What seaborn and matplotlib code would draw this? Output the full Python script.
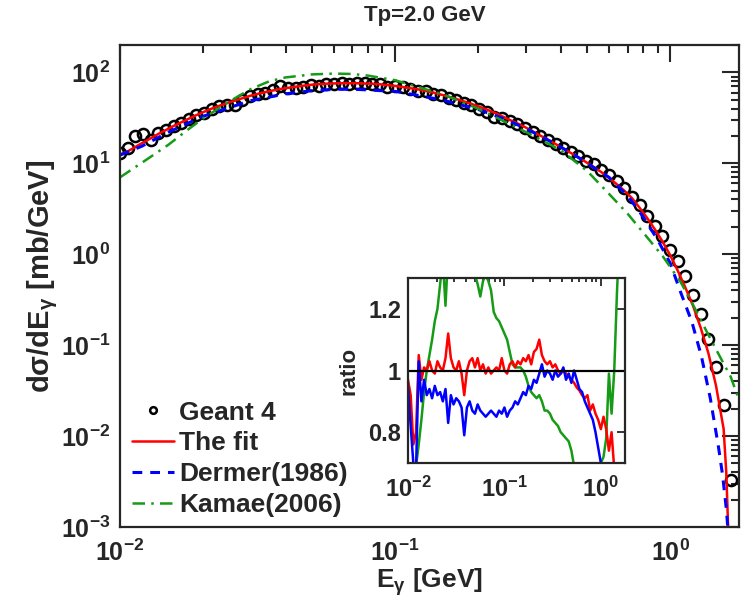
import numpy as np
import pandas as pd
import matplotlib
matplotlib.use("Agg")
import matplotlib.pyplot as plt
import seaborn as sns
from matplotlib.ticker import LogLocator, FixedLocator, FixedFormatter

# photon energy bins (GeV)
g4_e = [0.01000, 0.01066, 0.01136, 0.01212, 0.01292, 0.01377, 0.01468, 0.01565, 0.01668, 0.01778,
        0.01896, 0.02021, 0.02154, 0.02297, 0.02448, 0.02610, 0.02783, 0.02967, 0.03162, 0.03371,
        0.03594, 0.03831, 0.04084, 0.04354, 0.04642, 0.04948, 0.05275, 0.05623, 0.05995, 0.06391,
        0.06813, 0.07263, 0.07743, 0.08254, 0.08799, 0.09381, 0.1000, 0.1066, 0.1136, 0.1212,
        0.1292, 0.1377, 0.1468, 0.1565, 0.1668, 0.1778, 0.1896, 0.2021, 0.2154, 0.2297,
        0.2448, 0.2610, 0.2783, 0.2967, 0.3162, 0.3371, 0.3594, 0.3831, 0.4084, 0.4354,
        0.4642, 0.4948, 0.5275, 0.5623, 0.5995, 0.6391, 0.6813, 0.7263, 0.7743, 0.8254,
        0.8799, 0.9381, 1.000, 1.066, 1.136, 1.212, 1.292, 1.377, 1.468, 1.565, 1.668]

# Geant 4 cross section (mb/GeV)
g4_xs = [12.9, 14.7, 19.9, 21.1, 17.9, 21.6, 23.0, 25.7, 27.4, 30.9,
         34.2, 35.8, 39.5, 42.9, 44.1, 43.7, 49.9, 54.6, 57.9, 58.9,
         63.8, 71.3, 67.6, 67.6, 68.7, 72.3, 71.4, 75.1, 74.1, 76.8,
         75.2, 76.8, 75.5, 74.3, 74.0, 69.7, 71.0, 69.7, 65.7, 63.1,
         61.9, 58.3, 55.9, 51.9, 49.5, 45.7, 44.1, 39.6, 36.4, 32.7,
         31.4, 29.1, 27.0, 24.3, 22.3, 19.8, 18.2, 16.5, 14.6, 13.3,
         12.0, 10.7, 9.7, 8.4, 7.4, 6.4, 5.4, 4.3, 3.5, 2.6,
         2.05, 1.6, 1.1, 0.85, 0.58, 0.36, 0.22, 0.118, 0.057, 0.022, 0.0033]

# the fit
fit_e = g4_e[:80] + [1.600, 1.625, 1.640]
fit_xs = [12.5, 13.5, 15.1, 16.9, 18.8, 21.0, 23.2, 25.7, 28.2, 30.9,
          33.9, 36.9, 39.9, 42.9, 45.9, 48.9, 51.9, 55.1, 57.9, 60.7,
          63.2, 65.6, 67.6, 69.6, 71.4, 73.0, 74.3, 75.1, 75.6, 76.0,
          76.0, 76.0, 75.5, 75.0, 74.0, 72.5, 71.0, 69.0, 67.0, 65.0,
          62.5, 60.0, 57.0, 54.0, 51.0, 48.0, 45.0, 42.0, 39.0, 36.0,
          33.0, 30.0, 27.5, 25.0, 22.5, 20.2, 18.2, 16.3, 14.6, 13.0,
          11.6, 10.3, 9.1, 8.0, 6.9, 5.9, 5.0, 4.15, 3.25, 2.5,
          1.88, 1.38, 0.98, 0.66, 0.43, 0.27, 0.155, 0.082, 0.036, 0.012,
          0.004, 0.001, 0.0002]

# Dermer (1986)
dermer_e = [0.01, 0.012, 0.015, 0.02, 0.025, 0.03, 0.04, 0.05, 0.06, 0.07, 0.08, 0.1, 0.12, 0.15,
            0.2, 0.25, 0.3, 0.35, 0.4, 0.45, 0.5, 0.6, 0.7, 0.8, 0.9, 1.0, 1.1, 1.2, 1.3, 1.4,
            1.5, 1.55, 1.6, 1.62, 1.635]
dermer_xs = [12.3, 15.4, 22.0, 32.8, 41.0, 49.0, 58.0, 63.0, 65.0, 65.4, 64.0, 61.8, 56.2, 49.3,
             39.2, 30.7, 24.0, 18.8, 15.1, 12.3, 10.0, 7.0, 4.4, 2.55, 1.45, 0.80, 0.36, 0.18, 0.075, 0.026,
             0.0075, 0.0038, 0.0016, 0.001, 0.0004]

# Kamae (2006)
kamae_e = [0.01, 0.011, 0.0125, 0.015, 0.0175, 0.02, 0.025, 0.03, 0.035, 0.04, 0.05, 0.06, 0.07, 0.08,
           0.1, 0.15, 0.2, 0.3, 0.4, 0.5, 0.6, 0.7, 0.83, 0.94, 1.09, 1.21, 1.36, 1.52, 1.66, 1.78]
kamae_xs = [7.0, 8.5, 11.0, 16.0, 23.0, 31.0, 48.0, 66.0, 80.0, 88.0, 95.0, 97.0, 96.0, 92.0,
            82.0, 57.0, 40.0, 22.0, 14.0, 8.2, 4.6, 2.8, 1.5, 0.95, 0.5, 0.28, 0.14, 0.074, 0.045, 0.025]

# ratios in the inset
ratio_fit = [0.97, 0.92, 0.76, 0.80, 1.05, 0.97, 1.01, 1.00, 1.03, 1.00,
             0.99, 1.03, 1.01, 1.00, 1.04, 1.12, 1.04, 1.01, 1.00, 1.03,
             0.99, 0.92, 1.00, 1.03, 1.04, 1.01, 1.04, 1.00, 1.02, 0.99,
             1.01, 0.99, 1.00, 1.01, 1.00, 1.04, 1.00, 0.99, 1.02, 1.03,
             1.01, 1.03, 1.02, 1.04, 1.03, 1.05, 1.02, 1.06, 1.07, 1.10,
             1.05, 1.03, 1.02, 1.03, 1.01, 1.02, 1.00, 0.99, 1.00, 0.99,
             0.98, 0.97, 0.96, 0.945, 0.935, 0.92, 0.91, 0.92, 0.87, 0.89,
             0.86, 0.84, 0.81, 0.85, 0.81, 0.74, 0.80, 0.68, 0.60, 0.55, 0.50]
ratio_dermer = [0.95, 0.82, 0.70, 0.68, 1.03, 0.90, 0.97, 0.92, 0.94, 0.91,
                0.95, 0.92, 0.93, 0.90, 0.94, 0.83, 0.92, 0.89, 0.91, 0.90,
                0.88, 0.79, 0.88, 0.90, 0.87, 0.86, 0.89, 0.87, 0.86, 0.85,
                0.86, 0.87, 0.86, 0.85, 0.87, 0.86, 0.88, 0.85, 0.87, 0.88,
                0.90, 0.89, 0.91, 0.93, 0.92, 0.95, 0.94, 0.97, 0.96, 0.99,
                1.02, 0.98, 1.00, 0.99, 0.97, 1.00, 0.98, 0.99, 1.01, 0.97,
                0.99, 0.96, 1.00, 0.97, 0.94, 0.93, 0.90, 0.88, 0.86, 0.84,
                0.80, 0.75, 0.70, 0.66, 0.62, 0.58, 0.55, 0.50, 0.45, 0.40, 0.35]
ratio_kamae = [0.54, 0.58, 0.63, 0.69, 0.76, 0.84, 0.93, 1.00, 1.05, 1.10,
               1.16, 1.20, 1.28, 1.36, 1.21, 1.38, 1.45, 1.50, 1.55, 1.55,
               1.52, 1.48, 1.44, 1.40, 1.35, 1.31, 1.28, 1.24, 1.29, 1.31,
               1.29, 1.26, 1.19, 1.17, 1.16, 1.14, 1.12, 1.10, 1.06, 1.02,
               1.01, 1.01, 1.01, 1.00, 0.98, 0.95, 0.93, 0.92, 0.91, 0.92,
               0.90, 0.87, 0.87, 0.86, 0.84, 0.83, 0.82, 0.80, 0.79, 0.78,
               0.77, 0.74, 0.69, 0.65, 0.62, 0.60, 0.58, 0.57, 0.60, 0.62,
               0.65, 0.68, 0.70, 0.72, 0.78, 0.99, 0.86, 1.00, 1.25, 1.45, 1.60]

RED = "#ff0000"
BLUE = "#0000ff"
GREEN = "#169b16"

sns.set_style("white")
plt.rcParams["font.family"] = ["Liberation Sans", "DejaVu Sans"]
plt.rcParams["font.weight"] = "bold"
plt.rcParams["mathtext.fontset"] = "custom"
plt.rcParams["mathtext.rm"] = "Liberation Sans:bold"
plt.rcParams["mathtext.it"] = "Liberation Sans:bold"
plt.rcParams["mathtext.bf"] = "Liberation Sans:bold"
plt.rcParams["mathtext.default"] = "rm"
plt.rcParams["axes.linewidth"] = 1.6

fig = plt.figure(figsize=(7.47, 6.04), dpi=100)
ax = fig.add_axes([120 / 747, 1 - 527 / 604, 619 / 747, 482 / 604])
ax.set_xscale("log")
ax.set_yscale("log")

sns.lineplot(x=g4_e, y=g4_xs, ax=ax, estimator=None, linestyle="", marker="o",
             markersize=8, markerfacecolor="none", markeredgecolor="black",
             markeredgewidth=1.8, label="Geant 4")
sns.lineplot(x=fit_e, y=fit_xs, ax=ax, estimator=None, color=RED, lw=1.8, label="The fit")
sns.lineplot(x=dermer_e, y=dermer_xs, ax=ax, estimator=None, color=BLUE, lw=2.2,
             linestyle=(0, (3.2, 2.6)), label="Dermer(1986)")
sns.lineplot(x=kamae_e, y=kamae_xs, ax=ax, estimator=None, color=GREEN, lw=1.8,
             linestyle=(0, (5, 2.5, 1, 2.5)), label="Kamae(2006)")

ax.set_xlim(0.01, 1.78)
ax.set_ylim(1e-3, 2e2)
ax.yaxis.set_major_locator(LogLocator(base=10, numticks=10))
ax.yaxis.set_minor_locator(LogLocator(base=10, subs=np.arange(2, 10), numticks=20))
ax.tick_params(which="both", direction="in", top=True, right=True, width=1.5, labelsize=18)
ax.tick_params(which="major", length=12, pad=7)
ax.tick_params(which="minor", length=6)
ax.tick_params(axis="x", which="major", pad=9)

ax.set_xlabel(r"E$_{γ}$ [GeV]", fontsize=19, fontweight="bold", labelpad=0)
ax.set_ylabel(r"dσ/dE$_{γ}$ [mb/GeV]", fontsize=21, fontweight="bold")
ax.yaxis.set_label_coords(-0.097, 0.52)
fig.text(425 / 747, 1 - 16 / 604, "Tp=2.0 GeV", ha="center", va="center",
         fontsize=16, fontweight="bold")

leg = ax.legend(loc="lower left", bbox_to_anchor=(0.015, 0.015), frameon=False,
                fontsize=19, handlelength=1.6, handletextpad=0.2, labelspacing=0.26,
                markerscale=0.6, borderaxespad=0.0, borderpad=0.1)

# inset with the ratios
ins = fig.add_axes([408 / 747, 1 - 463 / 604, 217 / 747, 185 / 604])
ins.set_xscale("log")
sns.lineplot(x=g4_e, y=ratio_kamae, ax=ins, estimator=None, color=GREEN, lw=1.8)
sns.lineplot(x=g4_e, y=ratio_fit, ax=ins, estimator=None, color=RED, lw=1.8)
sns.lineplot(x=g4_e, y=ratio_dermer, ax=ins, estimator=None, color=BLUE, lw=1.8)
ins.axhline(1.0, color="black", lw=1.6)
ins.set_xlim(0.01, 1.78)
ins.set_ylim(0.7, 1.3)
ins.yaxis.set_major_locator(FixedLocator([0.8, 1.0, 1.2]))
ins.yaxis.set_major_formatter(FixedFormatter(["0.8", "1", "1.2"]))
ins.tick_params(which="both", direction="in", top=True, right=True, width=1.3, labelsize=17)
ins.tick_params(which="major", length=6, pad=5)
ins.tick_params(which="minor", length=3)
ins.tick_params(axis="x", which="major", pad=10)
ins.set_ylabel("ratio", fontsize=16, fontweight="bold")
ins.yaxis.set_label_coords(-0.225, 0.5)
for s in ins.spines.values():
    s.set_linewidth(1.6)

fig.savefig("out.png", dpi=100)
